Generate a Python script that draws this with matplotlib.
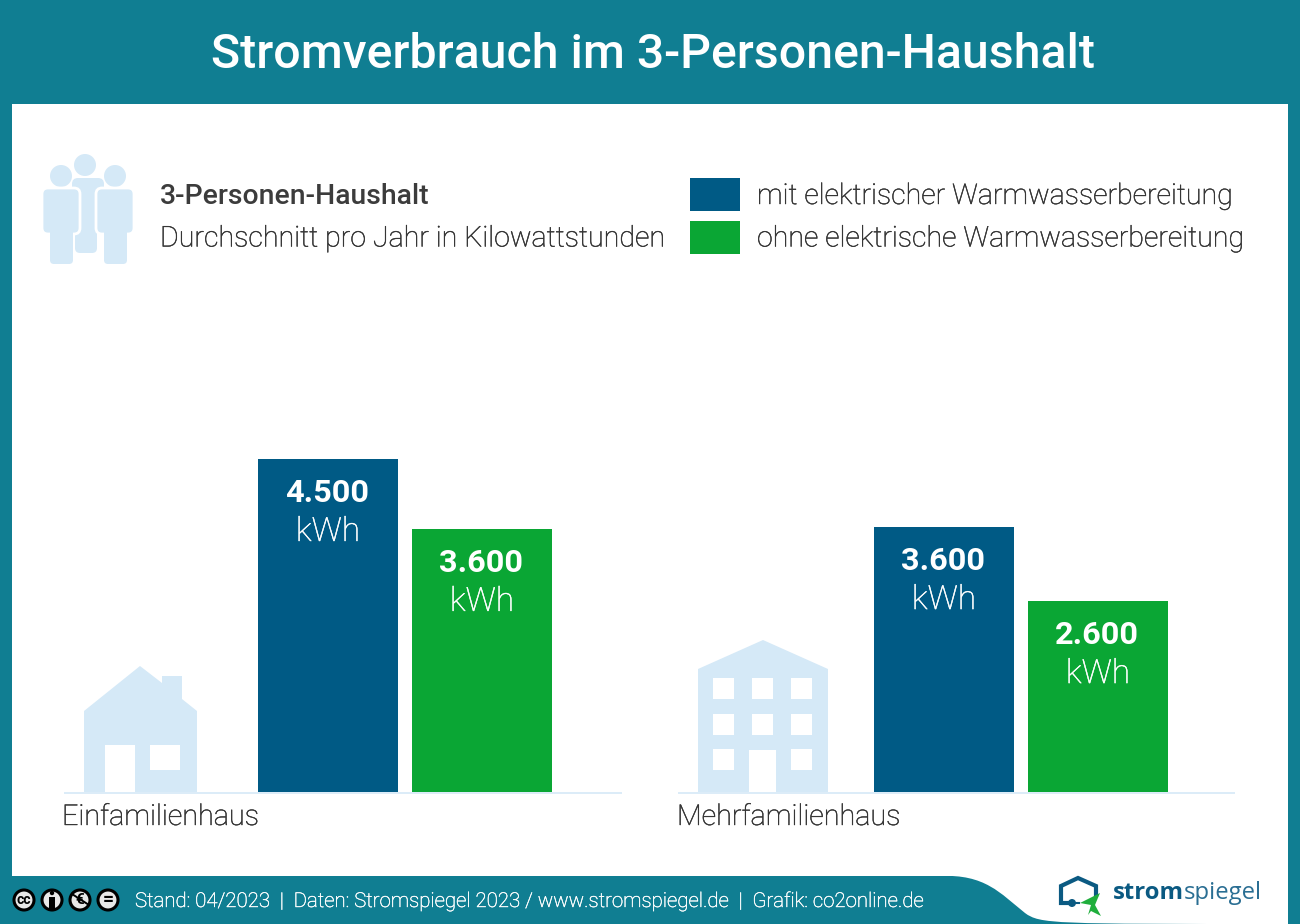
import matplotlib
matplotlib.use("Agg")
import matplotlib.pyplot as plt
import matplotlib.patheffects as pe
from matplotlib.patches import Polygon, Rectangle, Circle, FancyBboxPatch, PathPatch
from matplotlib.path import Path

TEAL = "#107e92"
BLUE = "#005a85"
GREEN = "#0aa634"
PALE = "#d5e9f7"
DARK = "#333333"
LOGO = "#0b5a82"

plt.rcParams["font.family"] = ["Roboto", "DejaVu Sans"]

title = "Stromverbrauch im 3-Personen-Haushalt"
groups = ["Einfamilienhaus", "Mehrfamilienhaus"]
legend_labels = ["mit elektrischer Warmwasserbereitung", "ohne elektrische Warmwasserbereitung"]
# bar heights as measured, the printed labels are rounded
mit_values = [4500, 3580]
ohne_values = [3555, 2580]
mit_labels = ["4.500", "3.600"]
ohne_labels = ["3.600", "2.600"]
footer = "Stand: 04/2023  |  Daten: Stromspiegel 2023 / www.stromspiegel.de  |  Grafik: co2online.de"

fig = plt.figure(figsize=(13, 9.24), dpi=100, facecolor=TEAL)

# pixel canvas for everything that is not a bar
bg = fig.add_axes([0, 0, 1, 1])
bg.set_xlim(0, 1300)
bg.set_ylim(924, 0)
bg.axis("off")


def thicken(t, color, w=0.3):
    # light weight renders too thin here, a hairline stroke brings it back
    t.set_path_effects([pe.withStroke(linewidth=w, foreground=color)])
    return t


def txt(x, y, s, size, color=DARK, weight="light", ha="left"):
    t = bg.text(x, y, s, fontsize=size, color=color, fontweight=weight, ha=ha, va="baseline", zorder=5)
    if weight == "light":
        thicken(t, color)
    return t


def rect(x0, y0, x1, y1, color, z=2):
    bg.add_patch(Rectangle((x0, y0), x1 - x0, y1 - y0, fc=color, ec="none", zorder=z))


def rounded(x0, y0, x1, y1, r, edge="none"):
    bg.add_patch(FancyBboxPatch((x0 + r, y0 + r), x1 - x0 - 2 * r, y1 - y0 - 2 * r,
                                boxstyle="round,pad=%d,rounding_size=%d" % (r, r),
                                fc=PALE, ec=edge, lw=2, zorder=3))


# white panel with the swoosh at the bottom right
rect(12, 104, 1288, 876, "white")
swoosh = Path([(940, 876), (985, 874), (1000, 893), (1025, 913), (1040, 924), (1052, 924), (1288, 924), (1288, 876), (940, 876)],
              [Path.MOVETO, Path.CURVE4, Path.CURVE4, Path.CURVE4, Path.CURVE4, Path.LINETO, Path.LINETO, Path.LINETO, Path.CLOSEPOLY])
bg.add_patch(PathPatch(swoosh, fc="white", ec="none", zorder=2))

txt(653, 68, title, 34.75, color="white", weight="medium", ha="center")

# people icon
bg.add_patch(Circle((85, 165), 11, fc=PALE, ec="none", zorder=3))
rounded(72, 178, 104, 200, 6)
rounded(75, 190, 97, 253, 5)
for cx in (61, 115):
    bg.add_patch(Circle((cx, 176), 11, fc=PALE, ec="none", zorder=3))
    rounded(cx - 19, 188, cx + 19, 234, 6, edge="white")
    rounded(cx - 11, 225, cx + 12, 264, 4)
    rect(cx - 11, 225, cx + 12, 236, PALE, z=3)

# legend block
txt(160, 204, "3-Personen-Haushalt", 20.4, color="#3c3c3c", weight="medium")
txt(160, 246.5, "Durchschnitt pro Jahr in Kilowattstunden", 20.6)
rect(690, 178, 739.5, 211, BLUE)
rect(690, 221, 739.5, 254, GREEN)
txt(757, 204, legend_labels[0], 20.55)
txt(757, 246.5, legend_labels[1], 20.55)

# house icon
bg.add_patch(Polygon([(84, 711), (140, 666), (162, 683), (162, 676), (182, 676), (182, 699), (197, 711), (197, 792), (84, 792)],
                     fc=PALE, ec="none", zorder=3))
rect(105, 745, 135, 792, "white", z=4)
rect(150, 745, 180, 770, "white", z=4)

# apartment icon
bg.add_patch(Polygon([(698, 669), (763, 640), (828, 669), (828, 792), (698, 792)], fc=PALE, ec="none", zorder=3))
for wy in (678, 714, 749):
    for wx in (713, 752, 791):
        if wy == 749 and wx == 752:
            continue
        rect(wx, wy, wx + 21, wy + 21, "white", z=4)
rect(749, 750, 776, 792, "white", z=4)

# baselines and group names
bg.plot([64, 622], [792.5, 792.5], color=PALE, lw=1.2, solid_capstyle="butt", zorder=3)
bg.plot([678, 1235], [792.5, 792.5], color=PALE, lw=1.2, solid_capstyle="butt", zorder=3)
txt(62, 825, groups[0], 20.7)
txt(677, 825, groups[1], 20.7)

# bars, y axis in kWh, 0 at the pixel row 792
ax = fig.add_axes([0, (924 - 792) / 924, 1, 400 / 924])
ax.patch.set_alpha(0)
ax.set_xlim(0, 1300)
ax.set_ylim(0, 400 / 0.074)
ax.axis("off")
mit_x = [258, 874]
ohne_x = [412, 1028]
ax.bar(mit_x, mit_values, width=140, align="edge", color=BLUE, zorder=3)
ax.bar(ohne_x, ohne_values, width=140, align="edge", color=GREEN, zorder=3)
for xs, vals, labs in ((mit_x, mit_values, mit_labels), (ohne_x, ohne_values, ohne_labels)):
    for x, v, lab in zip(xs, vals, labs):
        ax.annotate(lab, (x + 70, v), xytext=(-0.5, -43 * 0.72), textcoords="offset points", ha="center", va="baseline",
                    fontsize=23.4, fontweight="bold", color="white", zorder=5)
        unit = ax.annotate("kWh", (x + 70, v), xytext=(0, -82 * 0.72), textcoords="offset points", ha="center", va="baseline",
                           fontsize=24, fontweight="light", color="white", zorder=5)
        thicken(unit, "white")

# creative commons badges
for cx in (24, 52, 80, 108):
    bg.add_patch(Circle((cx, 900), 10, fc="#e8e8e8", ec="black", lw=2.2, zorder=3))
bg.text(24, 900.5, "cc", fontsize=10, fontweight="bold", color="black", ha="center", va="center", zorder=5)
bg.add_patch(Circle((52, 893), 2.2, fc="black", ec="none", zorder=4))
rect(49, 896.5, 55, 909, "black", z=4)
bg.text(80, 900, "€", fontsize=11, fontweight="bold", color="black", ha="center", va="center", zorder=5)
bg.plot([72, 89], [894, 905], color="black", lw=1.4, zorder=6)
bg.text(108, 899.5, "=", fontsize=14, fontweight="bold", color="black", ha="center", va="center", zorder=5)
txt(135, 907, footer, 14.7, color="white")

# logo
bg.plot([1068, 1061, 1061, 1078, 1096, 1096], [903, 903, 886, 878, 886, 895], color=LOGO, lw=3, solid_joinstyle="miter", zorder=4)
bg.add_patch(Circle((1072, 903), 4, fc=LOGO, ec="none", zorder=4))
bg.plot([1072, 1079], [903, 903], color=LOGO, lw=1.5, zorder=4)
bg.add_patch(Polygon([(1080, 903), (1100, 893), (1095, 905), (1101, 916), (1091, 911), (1088, 915), (1091, 905)],
                     fc="#1fae3c", ec="none", zorder=4))
strom = bg.text(1113, 899, "strom", fontsize=17.2, fontweight="bold", color=LOGO, family="Open Sans", va="baseline", zorder=5)
fig.canvas.draw()
end = strom.get_window_extent().x1
bg.text(end, 899, "spiegel", fontsize=17.2, color="#2a6e93", family="Open Sans", va="baseline", zorder=5)

fig.savefig("out.png", dpi=100, facecolor=TEAL)
